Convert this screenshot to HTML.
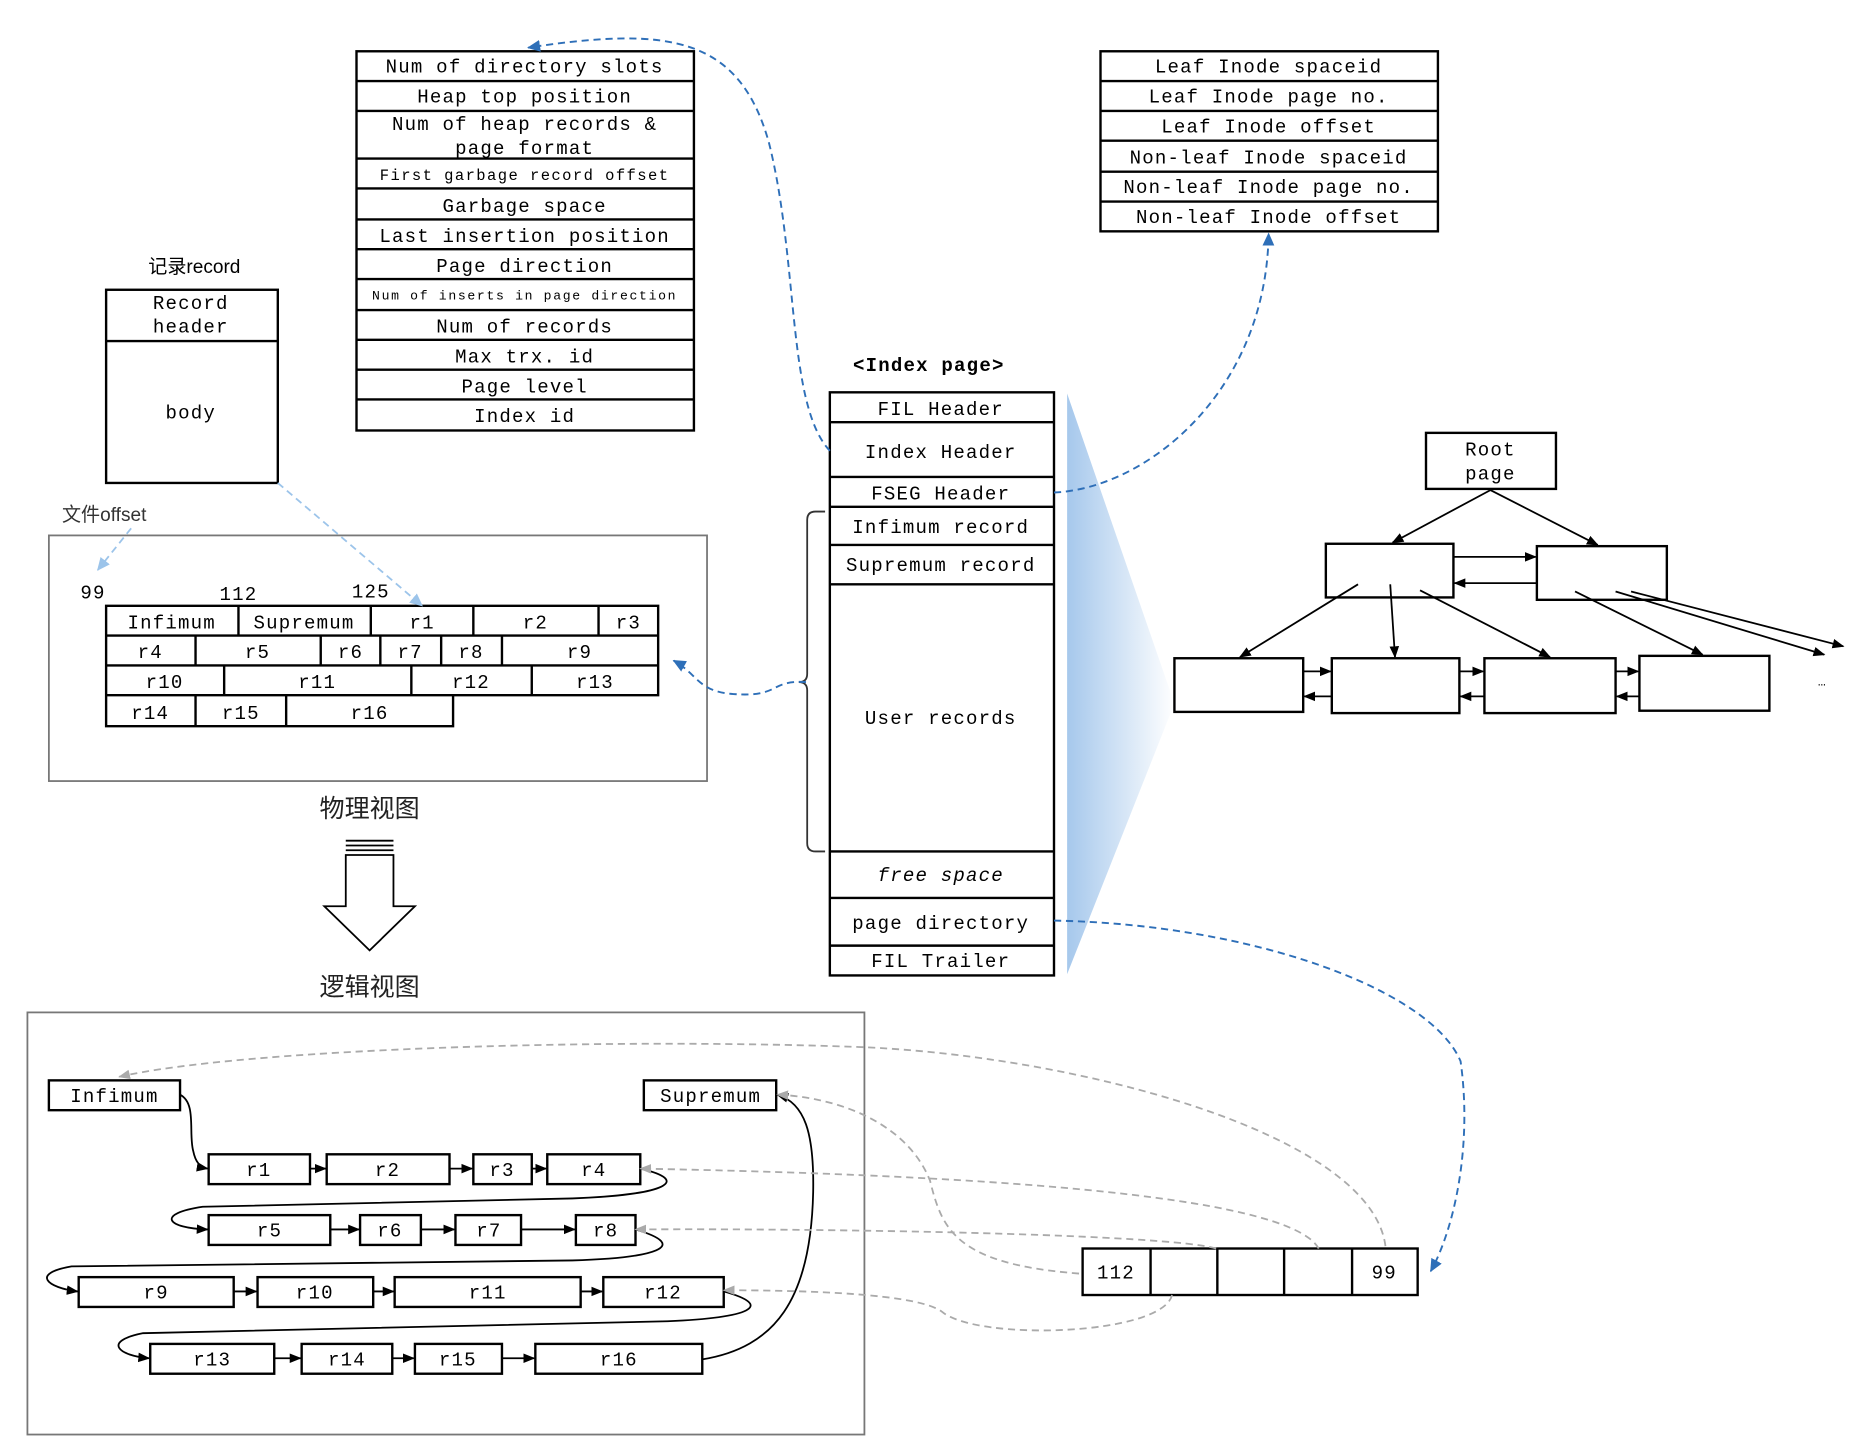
<!DOCTYPE html>
<html><head><meta charset="utf-8"><style>html,body{margin:0;padding:0;background:#fff}svg{display:block}</style></head><body>
<svg width="1860" height="1456" viewBox="0 0 1560 1221" preserveAspectRatio="none" xmlns="http://www.w3.org/2000/svg">
<defs>
<marker id="ab" markerWidth="10" markerHeight="10" refX="9" refY="5" orient="auto" markerUnits="userSpaceOnUse"><path d="M0,1 L10,5 L0,9 z" fill="#000"/></marker>
<marker id="abl" markerWidth="12" markerHeight="12" refX="10" refY="6" orient="auto" markerUnits="userSpaceOnUse"><path d="M0,1 L11,6 L0,11 z" fill="#2e6fb8"/></marker>
<marker id="alb" markerWidth="12" markerHeight="12" refX="10" refY="6" orient="auto" markerUnits="userSpaceOnUse"><path d="M0,1 L11,6 L0,11 z" fill="#9cc4ea"/></marker>
<marker id="ag" markerWidth="10" markerHeight="10" refX="9" refY="5" orient="auto" markerUnits="userSpaceOnUse"><path d="M0,1 L10,5 L0,9 z" fill="#aaa"/></marker>
<linearGradient id="gr" x1="0" x2="1" y1="0" y2="0"><stop offset="0" stop-color="#a6c8ec"/><stop offset="1" stop-color="#fff"/></linearGradient>
</defs>
<g font-family="Liberation Mono, monospace" font-size="16" letter-spacing="1" text-anchor="middle" fill="#000">
<g stroke="#000" stroke-width="2" fill="none">
<rect x="299" y="43" width="283" height="318"/>
<path d="M299,68H582M299,93H582M299,133H582M299,158H582M299,184H582M299,209H582M299,234H582M299,260H582M299,285H582M299,310H582M299,335H582"/>
<rect x="923" y="43" width="283" height="151"/>
<path d="M923,68H1206M923,93H1206M923,118H1206M923,144H1206M923,169H1206"/>
<rect x="89" y="243" width="144" height="162"/>
<path d="M89,286H233"/>
</g>
<text x="440" y="61">Num of directory slots</text>
<text x="440" y="86">Heap top position</text>
<text x="440" y="109">Num of heap records &amp;</text>
<text x="440" y="129">page format</text>
<text x="440" y="151" font-size="13" letter-spacing="1.2">First garbage record offset</text>
<text x="440" y="178">Garbage space</text>
<text x="440" y="203">Last insertion position</text>
<text x="440" y="228">Page direction</text>
<text x="440" y="251" font-size="11" letter-spacing="1.4">Num of inserts in page direction</text>
<text x="440" y="279">Num of records</text>
<text x="440" y="304">Max trx. id</text>
<text x="440" y="329">Page level</text>
<text x="440" y="354">Index id</text>
<text x="1064" y="61">Leaf Inode spaceid</text>
<text x="1064" y="86">Leaf Inode page no.</text>
<text x="1064" y="111">Leaf Inode offset</text>
<text x="1064" y="137">Non-leaf Inode spaceid</text>
<text x="1064" y="162">Non-leaf Inode page no.</text>
<text x="1064" y="187">Non-leaf Inode offset</text>
<text x="163" y="229" letter-spacing="0" font-family="Liberation Sans, Noto Sans CJK SC, sans-serif" font-size="16">记录record</text>
<text x="160" y="259">Record</text>
<text x="160" y="279">header</text>
<text x="160" y="351">body</text>
<text x="52" y="437" letter-spacing="0" text-anchor="start" font-family="Liberation Sans, Noto Sans CJK SC, sans-serif" font-size="16" fill="#333">文件offset</text>
<rect x="41" y="449" width="552" height="206" fill="none" stroke="#777" stroke-width="1.5"/>
<text x="78" y="502">99</text><text x="200" y="503">112</text><text x="311" y="501">125</text>
<g stroke="#000" stroke-width="2" fill="none">
<path d="M89,508H552V583H89z M89,533H552M89,558H552M89,583V609H380V583"/>
<path d="M200,508V533M311,508V533M397,508V533M502,508V533"/>
<path d="M164,533V558M269,533V558M319,533V558M370,533V558M421,533V558"/>
<path d="M188,558V583M345,558V583M446,558V583"/>
<path d="M164,583V609M240,583V609"/>
</g>
<text x="144" y="527">Infimum</text><text x="255" y="527">Supremum</text><text x="354" y="527">r1</text><text x="449" y="527">r2</text><text x="527" y="527">r3</text>
<text x="126" y="552">r4</text><text x="216" y="552">r5</text><text x="294" y="552">r6</text><text x="344" y="552">r7</text><text x="395" y="552">r8</text><text x="486" y="552">r9</text>
<text x="138" y="577">r10</text><text x="266" y="577">r11</text><text x="395" y="577">r12</text><text x="499" y="577">r13</text>
<text x="126" y="603">r14</text><text x="202" y="603">r15</text><text x="310" y="603">r16</text>
<path d="M233,405 L354,508" stroke="#9cc4ea" stroke-width="1.5" stroke-dasharray="6,4" fill="none" marker-end="url(#alb)"/>
<path d="M110,443 L82,478" stroke="#9cc4ea" stroke-width="1.5" stroke-dasharray="6,4" fill="none" marker-end="url(#alb)"/>
<text x="310" y="685" letter-spacing="0" font-family="Liberation Sans, Noto Sans CJK SC, sans-serif" font-size="21" fill="#222">物理视图</text>
<g stroke="#000" stroke-width="1.5" fill="#fff">
<path d="M290,705H330M290,709H330M290,713H330"/>
<path d="M290,717H330V760H348L310,797L272,760H290Z"/>
</g>
<text x="310" y="835" letter-spacing="0" font-family="Liberation Sans, Noto Sans CJK SC, sans-serif" font-size="21" fill="#222">逻辑视图</text>
<polygon points="895,330 985,590 895,817" fill="url(#gr)"/>
<text x="779" y="311" font-weight="bold">&lt;Index page&gt;</text>
<g stroke="#000" stroke-width="2" fill="none">
<rect x="696" y="329" width="188" height="489"/>
<path d="M696,354H884M696,400H884M696,425H884M696,457H884M696,490H884M696,714H884M696,753H884M696,793H884"/>
</g>
<path d="M692,429 H684 Q677,429 677,436 V565 Q677,572 670,572 Q677,572 677,579 V707 Q677,714 684,714 H692" stroke="#333" stroke-width="1.5" fill="none"/>
<text x="789" y="348">FIL Header</text>
<text x="789" y="384">Index Header</text>
<text x="789" y="419">FSEG Header</text>
<text x="789" y="447">Infimum record</text>
<text x="789" y="479">Supremum record</text>
<text x="789" y="607">User records</text>
<text x="789" y="739" font-style="italic">free space</text>
<text x="789" y="779">page directory</text>
<text x="789" y="811">FIL Trailer</text>
<g stroke="#2e6fb8" stroke-width="1.6" stroke-dasharray="6,4" fill="none">
<path d="M696,378 C660,340 670,220 645,120 C620,30 560,22 443,40" marker-end="url(#abl)"/>
<path d="M884,413 C960,410 1062,330 1064,196" marker-end="url(#abl)"/>
<path d="M884,772 C1050,775 1200,830 1225,890 C1235,960 1220,1030 1200,1066" marker-end="url(#abl)"/>
<path d="M676,572 C645,570 655,585 615,582 C585,580 585,565 565,554" marker-end="url(#abl)"/>
</g>
<g stroke="#000" stroke-width="2" fill="none">
<rect x="1196" y="363" width="109" height="47"/>
<rect x="1112" y="456" width="107" height="45"/>
<rect x="1289" y="458" width="109" height="45"/>
<rect x="985" y="552" width="108" height="45"/>
<rect x="1117" y="552" width="107" height="46"/>
<rect x="1245" y="552" width="110" height="46"/>
<rect x="1375" y="550" width="109" height="46"/>
</g>
<text x="1250" y="382">Root</text><text x="1250" y="402">page</text>
<g stroke="#000" stroke-width="1.5" marker-end="url(#ab)">
<line x1="1250" y1="411" x2="1168" y2="455"/>
<line x1="1250" y1="411" x2="1340" y2="457"/>
<line x1="1219" y1="467" x2="1288" y2="467"/>
<line x1="1289" y1="489" x2="1220" y2="489"/>
<line x1="1139" y1="490" x2="1040" y2="551"/>
<line x1="1166" y1="490" x2="1170" y2="551"/>
<line x1="1191" y1="495" x2="1300" y2="551"/>
<line x1="1321" y1="496" x2="1428" y2="549"/>
<line x1="1355" y1="496" x2="1530" y2="549"/>
<line x1="1368" y1="496" x2="1546" y2="542"/>
<line x1="1093" y1="563" x2="1116" y2="563"/><line x1="1117" y1="584" x2="1094" y2="584"/>
<line x1="1224" y1="563" x2="1244" y2="563"/><line x1="1245" y1="584" x2="1225" y2="584"/>
<line x1="1355" y1="563" x2="1374" y2="563"/><line x1="1375" y1="584" x2="1356" y2="584"/>
</g>
<text x="1528" y="575" font-size="11" letter-spacing="0">…</text>
<rect x="23" y="849" width="702" height="354" fill="none" stroke="#777" stroke-width="1.5"/>
<g stroke="#000" stroke-width="2" fill="#fff">
<rect x="41" y="906" width="110" height="25"/><rect x="540" y="906" width="111" height="25"/>
<rect x="175" y="968" width="85" height="25"/><rect x="274" y="968" width="103" height="25"/><rect x="397" y="968" width="49" height="25"/><rect x="459" y="968" width="78" height="25"/>
<rect x="175" y="1019" width="102" height="25"/><rect x="302" y="1019" width="51" height="25"/><rect x="382" y="1019" width="55" height="25"/><rect x="483" y="1019" width="50" height="25"/>
<rect x="66" y="1071" width="130" height="25"/><rect x="216" y="1071" width="97" height="25"/><rect x="331" y="1071" width="156" height="25"/><rect x="506" y="1071" width="101" height="25"/>
<rect x="126" y="1127" width="104" height="25"/><rect x="253" y="1127" width="76" height="25"/><rect x="348" y="1127" width="73" height="25"/><rect x="449" y="1127" width="140" height="25"/>
<rect x="908" y="1047" width="281" height="39"/>
</g>
<path d="M965,1047V1086M1021,1047V1086M1077,1047V1086M1134,1047V1086" stroke="#000" stroke-width="2"/>
<text x="96" y="924">Infimum</text><text x="596" y="924">Supremum</text>
<text x="217" y="986">r1</text><text x="325" y="986">r2</text><text x="421" y="986">r3</text><text x="498" y="986">r4</text>
<text x="226" y="1037">r5</text><text x="327" y="1037">r6</text><text x="410" y="1037">r7</text><text x="508" y="1037">r8</text>
<text x="131" y="1089">r9</text><text x="264" y="1089">r10</text><text x="409" y="1089">r11</text><text x="556" y="1089">r12</text>
<text x="178" y="1145">r13</text><text x="291" y="1145">r14</text><text x="384" y="1145">r15</text><text x="519" y="1145">r16</text>
<text x="936" y="1072">112</text><text x="1161" y="1072">99</text>
<g stroke="#000" stroke-width="1.5" fill="none" marker-end="url(#ab)">
<line x1="260" y1="980" x2="273" y2="980"/><line x1="377" y1="980" x2="396" y2="980"/><line x1="446" y1="980" x2="458" y2="980"/>
<line x1="277" y1="1031" x2="301" y2="1031"/><line x1="353" y1="1031" x2="381" y2="1031"/><line x1="437" y1="1031" x2="482" y2="1031"/>
<line x1="196" y1="1083" x2="215" y2="1083"/><line x1="313" y1="1083" x2="330" y2="1083"/><line x1="487" y1="1083" x2="505" y2="1083"/>
<line x1="230" y1="1139" x2="252" y2="1139"/><line x1="329" y1="1139" x2="347" y2="1139"/><line x1="421" y1="1139" x2="448" y2="1139"/>
<path d="M151,918 C165,925 158,950 162,965 C164,975 168,979 174,980"/>
<path d="M537,980 C580,990 560,1002 480,1005 L170,1012 C130,1018 140,1030 174,1031"/>
<path d="M533,1031 C580,1045 550,1055 480,1057 L60,1062 C25,1068 40,1080 65,1083"/>
<path d="M607,1083 C650,1095 630,1105 560,1108 L120,1118 C85,1125 100,1137 125,1139"/>
<path d="M589,1140 C650,1130 680,1090 682,1000 C683,950 675,925 652,918"/>
</g>
<g stroke="#aaa" stroke-width="1.5" stroke-dasharray="6,4" fill="none" marker-end="url(#ag)">
<path d="M1162,1045 C1150,950 900,885 720,878 C500,870 200,880 100,903"/>
<path d="M1106,1047 C1080,1000 800,985 537,980"/>
<path d="M1020,1047 C980,1035 700,1030 533,1031"/>
<path d="M905,1068 C800,1060 790,1030 780,990 C760,940 700,920 652,918"/>
<path d="M983,1086 C975,1120 820,1125 790,1100 C770,1085 680,1082 607,1082"/>
</g>
</g>
</svg>
</body></html>
